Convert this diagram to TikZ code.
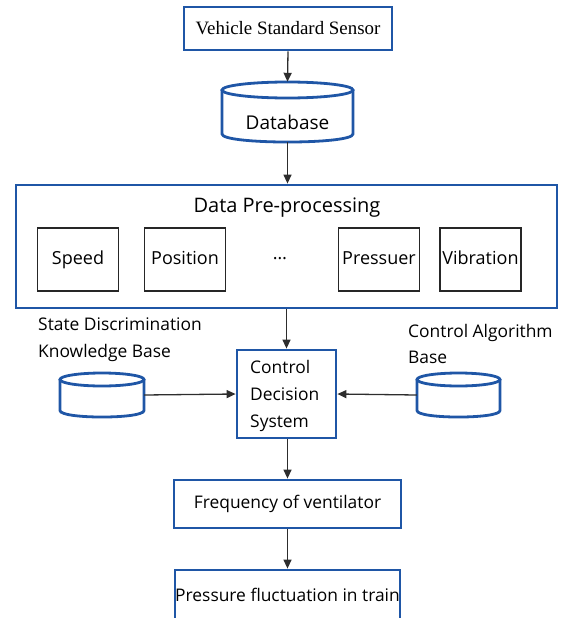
\documentclass[tikz,border=0pt]{standalone}
\usepackage{fontspec}
\setmainfont{Open Sans}
\newfontfamily\serifface{Liberation Serif}
\usetikzlibrary{arrows.meta}
\definecolor{boxblue}{RGB}{31,86,166}
\definecolor{arrowgray}{RGB}{45,45,45}
\begin{document}
\begin{tikzpicture}[x=1pt,y=-1pt,
  bluebox/.style={draw=boxblue,line width=2.8pt,rectangle,inner sep=0pt,fill=white},
  itembox/.style={draw=black!85,line width=1.1pt,rectangle,inner sep=0pt,minimum width=81pt,minimum height=63pt,text height=13pt,text depth=4pt,font=\fontsize{18}{21}\selectfont},
  anchorbox/.style={rectangle,inner sep=0pt},
  cyl/.style={draw=boxblue,line width=2.8pt},
  conn/.style={draw=arrowgray,line width=1.3pt,-{Triangle[length=9pt,width=8pt]}},
  lbl/.style={font=\fontsize{17.4}{20}\selectfont,inner sep=0pt,anchor=base west}
]
\useasboundingbox (0,0) rectangle (562,618);

% sensor
\node[bluebox,minimum width=208pt,minimum height=43pt,font=\serifface\fontsize{18.9}{22}\selectfont] (sensor) at (288,28.5) {Vehicle Standard Sensor};

% database cylinder
\node[anchorbox,minimum width=131pt,minimum height=60pt] (db) at (287.5,112) {};
\draw[cyl] (287.5,90) ellipse [x radius=65.5, y radius=8];
\draw[cyl] (222,90) -- (222,134) .. controls (222,144.7) and (353,144.7) .. (353,134) -- (353,90);
\node[font=\fontsize{19}{22}\selectfont] (dbtext) at (287.5,122) {Database};

% pre-processing
\node[bluebox,minimum width=541pt,minimum height=123pt] (pre) at (286.5,246.5) {};
\node[font=\fontsize{20}{23}\selectfont] (pretitle) at (287,208) {Data Pre-processing};
\node[itembox] (speed) at (78,259.5) {Speed};
\node[itembox] (position) at (185,259.5) {Position};
\node[font=\fontsize{18}{21}\selectfont] (dots) at (280,259) {\dots};
\node[itembox] (pressuer) at (379,259.5) {Pressuer};
\node[itembox] (vibration) at (480.5,259.5) {Vibration};

% control decision
\node[bluebox,minimum width=99pt,minimum height=88pt] (ctrl) at (286.5,394) {};
\node[lbl] (c1) at (250,373) {Control};
\node[lbl] (c2) at (250,400) {Decision};
\node[lbl] (c3) at (250,427) {System};

% left cylinder
\node[anchorbox,minimum width=84pt,minimum height=44pt] (kb) at (102,395) {};
\draw[cyl] (102,379.5) ellipse [x radius=42, y radius=6.5];
\draw[cyl] (60,379.5) -- (60,410.5) .. controls (60,419.2) and (144,419.2) .. (144,410.5) -- (144,379.5);
\node[lbl] (kb1) at (38,330) {State Discrimination};
\node[lbl] (kb2) at (38,357) {Knowledge Base};

% right cylinder
\node[anchorbox,minimum width=83pt,minimum height=44pt] (cab) at (458.5,395) {};
\draw[cyl] (458.5,379.5) ellipse [x radius=41.5, y radius=6.5];
\draw[cyl] (417,379.5) -- (417,410.5) .. controls (417,419.2) and (500,419.2) .. (500,410.5) -- (500,379.5);
\node[lbl] (cab1) at (408,337) {Control Algorithm};
\node[lbl] (cab2) at (408,363) {Base};

% frequency
\node[bluebox,minimum width=227pt,minimum height=48pt,font=\fontsize{17.4}{20}\selectfont] (freq) at (287.5,504) {Frequency of ventilator};

% pressure fluctuation
\node[bluebox,minimum width=225pt,minimum height=52pt] (press) at (287.5,596) {};
\node[lbl,anchor=base] (presstext) at (287.5,601) {Pressure fluctuation in train};

% connectors
\draw[conn] (sensor.south) -- (db.north);
\draw[conn] (db.south) -- (pre.north -| db.south);
\draw[conn] (pre.south) -- (ctrl.north);
\draw[conn] (ctrl.south -| freq.north) -- (freq.north);
\draw[conn] (freq.south) -- (press.north);
\draw[conn] (kb.east) -- (ctrl.west);
\draw[conn] (cab.east -| cab.west) -- (ctrl.east);
\end{tikzpicture}
\end{document}
